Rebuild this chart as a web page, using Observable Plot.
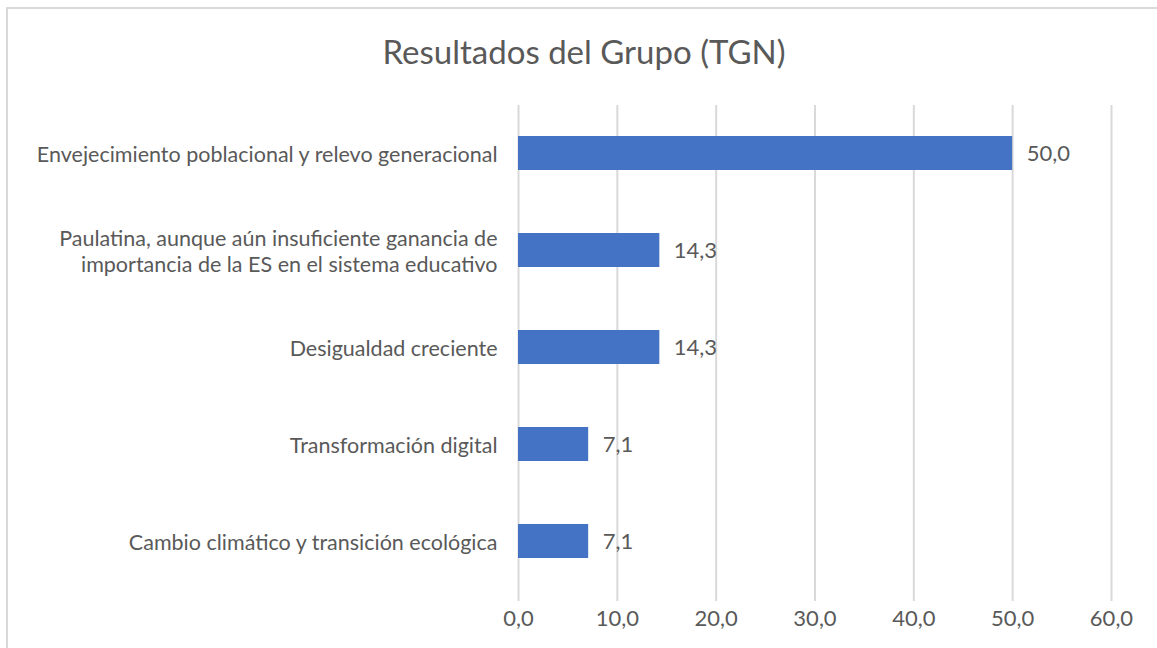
<!DOCTYPE html>
<html>
<head>
<meta charset="utf-8">
<script src="https://cdn.jsdelivr.net/npm/d3@7"></script>
<script src="https://cdn.jsdelivr.net/npm/@observablehq/plot@0.6"></script>
<style>
  html, body { margin: 0; padding: 0; background: #fff; overflow: hidden; }
  #wrap { position: relative; width: 1157px; height: 648px; }
  #border { position: absolute; left: 6px; top: 7px; width: 1160px; height: 660px; border: 2px solid #d9d9d9; box-sizing: border-box; }
  #title { position: absolute; left: 0; width: 1168px; top: 31px; line-height: 40px; text-align: center; font-family: Lato, "Open Sans", sans-serif; font-size: 33px; color: #595959; }
  #chart { position: absolute; left: 0; top: 0; }
</style>
</head>
<body>
<div id="wrap">
  <div id="border"></div>
  <div id="title">Resultados del Grupo (TGN)</div>
  <div id="chart"></div>
</div>
<script>
const categories = [
  "Envejecimiento poblacional y relevo generacional",
  "Paulatina, aunque aún insuficiente ganancia de\nimportancia de la ES en el sistema educativo",
  "Desigualdad creciente",
  "Transformación digital",
  "Cambio climático y transición ecológica"
];
const values = [50.0, 14.3, 14.3, 7.1, 7.1];
const xTicks = [0, 10, 20, 30, 40, 50, 60];

const data = categories.map((c, i) => ({category: c, value: values[i]}));
const fmt = d => d.toFixed(1).replace(".", ",");

const chart = Plot.plot({
  width: 1157,
  height: 648,
  marginLeft: 518,
  marginRight: 46,
  marginTop: 105,
  marginBottom: 47,
  style: { fontFamily: "Lato, 'Open Sans', sans-serif", fontSize: "22px", color: "#595959", background: "transparent" },
  x: { domain: [0, 60], ticks: xTicks, tickFormat: fmt, label: null },
  y: { domain: categories, range: [106, 588], paddingInner: 0.65, paddingOuter: 0.3, label: null },
  marks: [
    Plot.ruleX(xTicks, { stroke: "#d9d9d9", strokeWidth: 2 }),
    Plot.barX(data, { y: "category", x: "value", fill: "#4472c4" }),
    Plot.text(data, { y: "category", x: "value", text: d => fmt(d.value), textAnchor: "start", dx: 14, fill: "#595959", fontSize: 22 }),
    Plot.axisX({ ticks: xTicks, tickFormat: fmt, tickSize: 0, tickPadding: 9, fontSize: 22, label: null, fill: "#595959" }),
    Plot.axisY({ tickSize: 0, tickPadding: 21, fontSize: 21.5, label: null, lineHeight: 1.2, fill: "#595959" })
  ]
});
document.getElementById("chart").appendChild(chart);
</script>
</body>
</html>
